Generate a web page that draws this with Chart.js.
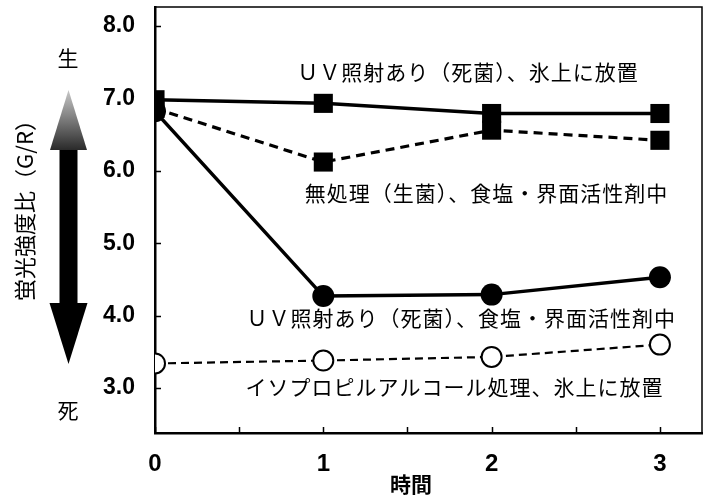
<!DOCTYPE html>
<html>
<head>
<meta charset="utf-8">
<script src="https://cdn.jsdelivr.net/npm/chart.js@4"></script>
<style>
  html, body { margin: 0; padding: 0; background: #fff; }
  #wrap { width: 707px; height: 495px; }
</style>
</head>
<body>
<div id="wrap"><canvas id="c" width="707" height="495"></canvas></div>
<script>
// 時間 (h)
const times = [0, 1, 2, 3];
// 蛍光強度比 G/R
const uvIce = [6.98, 6.93, 6.79, 6.79];       // UV照射あり（死菌）、氷上に放置
const untreated = [6.86, 6.12, 6.56, 6.42];   // 無処理（生菌）、食塩・界面活性剤中
const uvSalt = [6.82, 4.27, 4.29, 4.53];      // UV照射あり（死菌）、食塩・界面活性剤中
const ipa = [3.34, 3.38, 3.43, 3.6];          // イソプロピルアルコール処理、氷上に放置

const seriesNames = [
  'ＵＶ照射あり（死菌）、氷上に放置',
  '無処理（生菌）、食塩・界面活性剤中',
  'ＵＶ照射あり（死菌）、食塩・界面活性剤中',
  'イソプロピルアルコール処理、氷上に放置'
];
const xTickValues = [0, 0.5, 1, 1.5, 2, 2.5, 3];
const yTickValues = [3, 4, 5, 6, 7, 8];

const xTitle = '時間';
const yTitle = '蛍光強度比（G/R）';
const liveLabel = '生';
const deadLabel = '死';

// where each series label sits, in data units
const labelAnchors = [
  { x: 1.86, y: 7.36 },
  { x: 1.97, y: 5.69 },
  { x: 1.82, y: 3.97 },
  { x: 1.78, y: 3.02 }
];

const pts = arr => times.map((t, i) => ({ x: t, y: arr[i] }));

// drop the label overhang padding so the plot box sits where we want it
const noPad = s => { s.paddingTop = 0; s.paddingBottom = 0; s.paddingLeft = 0; s.paddingRight = 0; };

const decor = {
  id: 'decor',
  afterDraw(chart) {
    const { ctx, chartArea: a, scales: { x, y } } = chart;
    ctx.save();
    ctx.strokeStyle = '#000';
    ctx.fillStyle = '#000';

    // thin top / right frame
    ctx.lineWidth = 1.5;
    ctx.beginPath();
    ctx.moveTo(a.left, a.top);
    ctx.lineTo(a.right, a.top);
    ctx.lineTo(a.right, a.bottom);
    ctx.stroke();

    // inward tick marks
    ctx.lineWidth = 1.5;
    ctx.beginPath();
    y.ticks.forEach(t => {
      const py = Math.round(y.getPixelForValue(t.value)) + 0.5;
      ctx.moveTo(a.left, py);
      ctx.lineTo(a.left + 6, py);
    });
    x.ticks.forEach(t => {
      const px = Math.round(x.getPixelForValue(t.value)) + 0.5;
      ctx.moveTo(px, a.bottom);
      ctx.lineTo(px, a.bottom - 6);
    });
    ctx.stroke();

    // series labels
    ctx.font = '21px "Noto Sans CJK JP"';
    ctx.letterSpacing = '1px';
    ctx.textAlign = 'center';
    ctx.textBaseline = 'middle';
    seriesNames.forEach((s, i) => {
      ctx.fillText(s, x.getPixelForValue(labelAnchors[i].x), y.getPixelForValue(labelAnchors[i].y));
    });
    ctx.letterSpacing = '0px';

    // x title
    ctx.font = 'bold 21px "Noto Sans CJK JP"';
    ctx.fillText(xTitle, 411, 484);

    // y title (vertical)
    ctx.save();
    ctx.translate(25, 205);
    ctx.rotate(-Math.PI / 2);
    ctx.font = '22px "Noto Sans CJK JP"';
    ctx.fillText(yTitle, 0, 0);
    ctx.restore();

    // 生 / 死
    ctx.font = '21px "Noto Sans CJK JP"';
    ctx.fillText(liveLabel, 68, 58);
    ctx.fillText(deadLabel, 68, 410);

    // double arrow
    const cx = 68.5;
    const g = ctx.createLinearGradient(0, 90, 0, 150);
    g.addColorStop(0, '#c8c8c8');
    g.addColorStop(0.5, '#7a7a7a');
    g.addColorStop(1, '#2a2a2a');
    ctx.fillStyle = g;
    ctx.beginPath();
    ctx.moveTo(cx, 90);
    ctx.lineTo(cx + 18.5, 150);
    ctx.lineTo(cx - 18.5, 150);
    ctx.closePath();
    ctx.fill();
    ctx.fillStyle = '#000';
    ctx.fillRect(cx - 9, 150, 18, 153);
    ctx.beginPath();
    ctx.moveTo(cx - 19, 303);
    ctx.lineTo(cx + 19, 303);
    ctx.lineTo(cx, 364);
    ctx.closePath();
    ctx.fill();

    ctx.restore();
  }
};

new Chart(document.getElementById('c'), {
  type: 'line',
  data: {
    datasets: [
      {
        data: pts(ipa),
        borderColor: '#000', borderWidth: 2.2, borderDash: [8, 5],
        pointStyle: 'circle', pointRadius: 10, pointBorderWidth: 2,
        pointBackgroundColor: '#fff', pointBorderColor: '#000', order: 4
      },
      {
        data: pts(uvSalt),
        borderColor: '#000', borderWidth: 3.5,
        pointStyle: 'circle', pointRadius: 11, pointBorderWidth: 0,
        pointBackgroundColor: '#000', order: 3
      },
      {
        data: pts(untreated),
        borderColor: '#000', borderWidth: 3.2, borderDash: [9, 6],
        pointStyle: 'rect', pointRadius: 13.5, pointBorderWidth: 0,
        pointBackgroundColor: '#000', order: 2
      },
      {
        data: pts(uvIce),
        borderColor: '#000', borderWidth: 3.5,
        pointStyle: 'rect', pointRadius: 13.5, pointBorderWidth: 0,
        pointBackgroundColor: '#000', order: 1
      }
    ]
  },
  options: {
    responsive: false,
    devicePixelRatio: 1,
    animation: false,
    layout: { autoPadding: false, padding: { top: 7, right: 5, left: 0, bottom: 0 } },
    plugins: { legend: { display: false }, tooltip: { enabled: false } },
    scales: {
      x: {
        type: 'linear', min: 0, max: 3.25,
        afterBuildTicks: s => { s.ticks = xTickValues.map(v => ({ value: v })); },
        afterFit: s => { s.height = 62; noPad(s); },
        grid: { display: false, drawTicks: false },
        border: { display: true, color: '#000', width: 2.5 },
        ticks: {
          padding: 17, color: '#000',
          font: { family: '"Liberation Sans", Arial, sans-serif', size: 24, weight: 'bold' },
          callback: v => Number.isInteger(v) ? String(v) : ''
        }
      },
      y: {
        type: 'linear', min: 2.38, max: 8.26,
        afterBuildTicks: s => { s.ticks = yTickValues.map(v => ({ value: v })); },
        afterFit: s => { s.width = 155; noPad(s); },
        grid: { display: false, drawTicks: false },
        border: { display: true, color: '#000', width: 2.5 },
        ticks: {
          padding: 20, color: '#000',
          font: { family: '"Liberation Sans", Arial, sans-serif', size: 23, weight: 'bold' },
          callback: v => v.toFixed(1)
        }
      }
    }
  },
  plugins: [decor]
});
</script>
</body>
</html>
